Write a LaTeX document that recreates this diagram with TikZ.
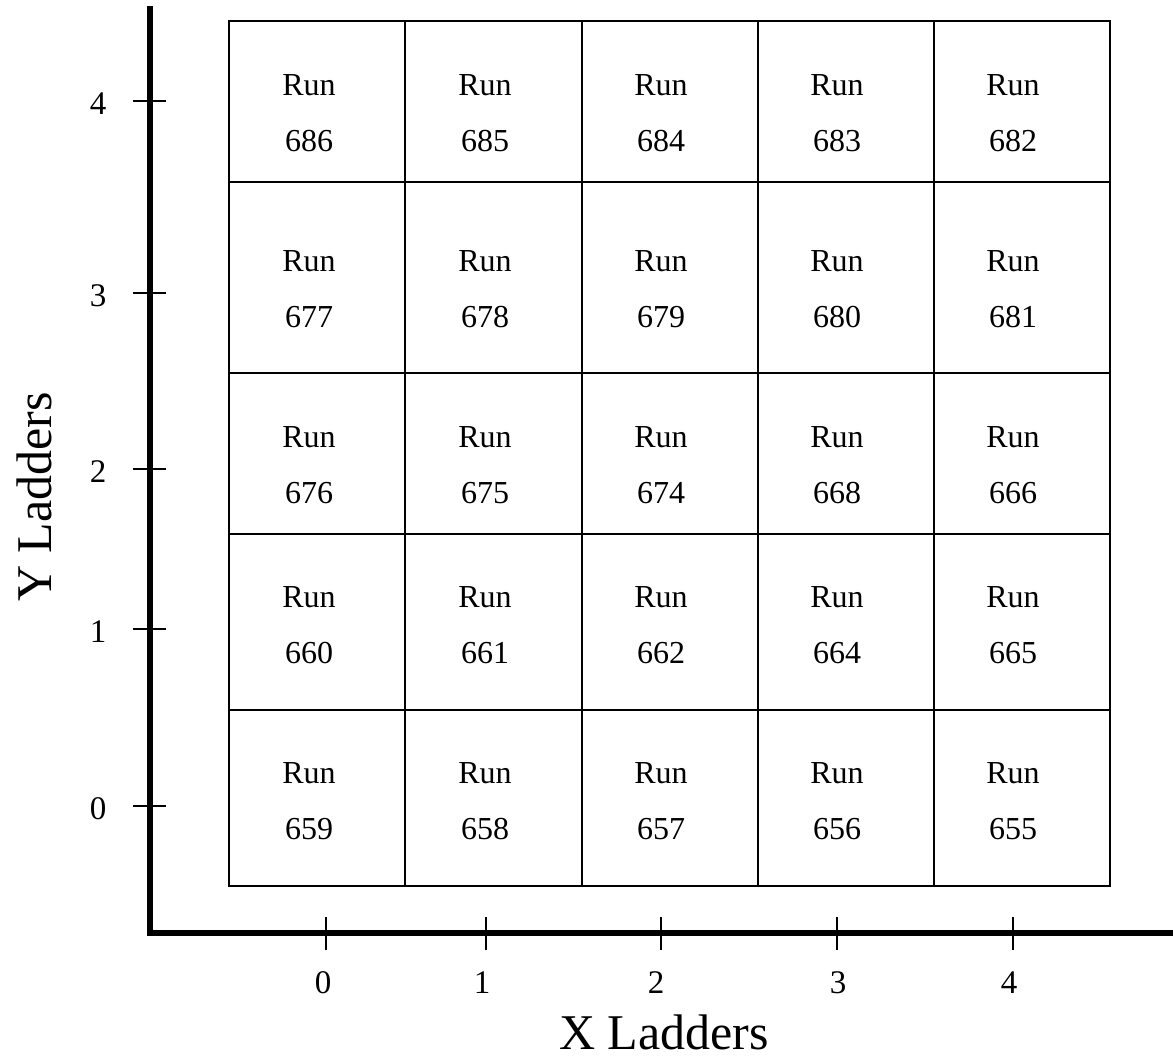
\documentclass[tikz,border=0pt]{standalone}
\usepackage{fontspec}
\setmainfont{Liberation Serif}
\usetikzlibrary{positioning}

\begin{document}
\begin{tikzpicture}[
    x=0.5pt, y=-0.5pt,
    axis/.style={draw=black, line width=2.8pt, line join=miter},
    tick/.style={draw=black, line width=0.8pt},
    cell/.style={draw=black, line width=0.8pt},
    runlabel/.style={align=center, inner sep=0pt, font=\fontsize{16}{28}\selectfont},
    ticklabel/.style={inner sep=0pt, font=\fontsize{16.5}{20}\selectfont},
    axistitle/.style={inner sep=0pt, font=\fontsize{25}{30}\selectfont}
]
\useasboundingbox (0,0) rectangle (1173,1064);

% Ladder grid
\draw[cell] (229,21) rectangle (1110,886);
\foreach \xx in {405,582,758,934}
    \draw[cell] (\xx,21) -- (\xx,886);
\foreach \yy in {182,373,534,710}
    \draw[cell] (229,\yy) -- (1110,\yy);

% Runs, Y ladder 4
\foreach \xx/\n in {309/686,485/685,661/684,837/683,1013/682}
    \node[runlabel] (run\n) at (\xx,113) {Run\\\n};
% Runs, Y ladder 3
\foreach \xx/\n in {309/677,485/678,661/679,837/680,1013/681}
    \node[runlabel] (run\n) at (\xx,289) {Run\\\n};
% Runs, Y ladder 2
\foreach \xx/\n in {309/676,485/675,661/674,837/668,1013/666}
    \node[runlabel] (run\n) at (\xx,465) {Run\\\n};
% Runs, Y ladder 1
\foreach \xx/\n in {309/660,485/661,661/662,837/664,1013/665}
    \node[runlabel] (run\n) at (\xx,625) {Run\\\n};
% Runs, Y ladder 0
\foreach \xx/\n in {309/659,485/658,661/657,837/656,1013/655}
    \node[runlabel] (run\n) at (\xx,801) {Run\\\n};

% Axes
\draw[axis] (150,6) -- (150,933) -- (1173,933);

% Y ticks
\foreach \yy/\k in {806/0,629/1,469/2,293/3,101/4} {
    \draw[tick] (133,\yy) -- (166,\yy);
    \node[ticklabel] (ylab\k) at (98,\yy+3) {\k};
}

% X ticks
\foreach \xx/\lx/\k in {326/323/0,486/482/1,661/656/2,837/838/3,1013/1009/4} {
    \draw[tick] (\xx,917) -- (\xx,950);
    \node[ticklabel] (xlab\k) at (\lx,983) {\k};
}

% Axis titles
\node[axistitle] (xtitle) at (664,1032) {X Ladders};
\node[axistitle, rotate=90] (ytitle) at (34,497) {Y Ladders};

\end{tikzpicture}
\end{document}
